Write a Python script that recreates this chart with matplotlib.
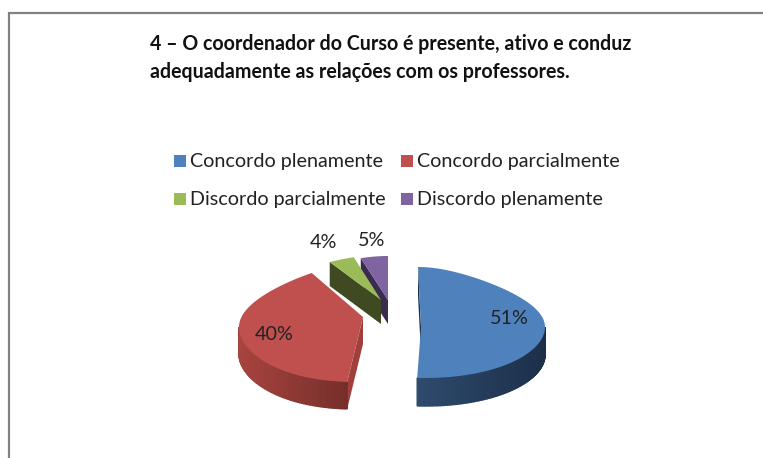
import numpy as np
import matplotlib
matplotlib.use("Agg")
import matplotlib.pyplot as plt
from matplotlib.patches import Polygon, Rectangle

plt.rcParams['font.family'] = ['Lato', 'DejaVu Sans']

title = "4 – O coordenador do Curso é presente, ativo e conduz\nadequadamente as relações com os professores."
categories = ["Concordo plenamente", "Concordo parcialmente",
              "Discordo parcialmente", "Discordo plenamente"]
values = [51, 40, 4, 5]

top_colors = ['#4f81bd', '#c0504d', '#9bbb59', '#8064a2']
cut_colors = ['#1c3048', '#a03f3c', '#3f4a22', '#3a2c4e']
wall_left = ['#2f4b6e', '#a8443f', '#3f4a22', '#3a2c4e']
wall_right = ['#1b2f49', '#762e2b', '#3f4a22', '#3a2c4e']

# exploded pie: apex x, apex y, ry back, ry front, depth, lean front, lean back, rim drop
slice_shape = [
    (421, 327, 60, 51, 28, -4, -3, 0),
    (363, 317, 64, 55, 27, 8, 0, 10),
    (381, 300, 45, 45, 24, 0, 0, 0),
    (388, 300, 44, 44, 24, 0, 0, 0),
]
RX = 124
PERSP = 0.32
label_pos = [(509, 319), (274, 334), (323, 242), (372, 241)]
legend_x = [174, 401]
legend_y = [162, 200]


def rim(angle, shape):
    # angle in degrees, clockwise from 12 o'clock
    ax_, ay_, ry_back, ry_front, depth, lean_f, lean_b, drop = shape
    s = np.sin(np.radians(angle))
    c = np.cos(np.radians(angle))
    x = ax_ + RX * s * (1 - PERSP * np.maximum(c, 0) ** 2)
    x = x + lean_f * np.minimum(c, 0) ** 3 + lean_b * np.maximum(c, 0) ** 3
    y = ay_ + drop - np.where(c > 0, ry_back, ry_front) * c
    return x, y


def hex_rgb(h):
    return np.array(matplotlib.colors.to_rgb(h))


fig = plt.figure(figsize=(7.63, 4.58), dpi=100)
ax = fig.add_axes([0, 0, 1, 1])
ax.set_xlim(0, 763)
ax.set_ylim(458, 0)
ax.axis('off')

# frame, runs off the right and bottom
ax.plot([9, 9, 763], [458, 13, 13], color='#808080', lw=1.6, solid_joinstyle='miter')

ax.text(150, 44, title.split("\n")[0], fontsize=14.15, fontweight='bold', va='center', color='#111111')
ax.text(150, 72, title.split("\n")[1], fontsize=14.15, fontweight='bold', va='center', color='#111111')

for i, name in enumerate(categories):
    lx = legend_x[i % 2]
    ly = legend_y[i // 2]
    ax.add_patch(Rectangle((lx, ly - 7), 12, 12, color=top_colors[i], lw=0))
    ax.text(lx + 16, ly, name, fontsize=14.2, va='center', color='#222222')

# slices, back ones first so the front ones cover them
order = [3, 2, 0, 1]
starts = np.cumsum([0] + values[:-1]) * 3.6
for i in order:
    shape = slice_shape[i]
    a0 = starts[i]
    a1 = a0 + values[i] * 3.6
    ax_, ay_, ry_b, ry_f, depth = shape[:5]

    # cut face on the start side
    rx0, ry0 = rim(a0, shape)
    ax.add_patch(Polygon([(ax_, ay_), (rx0, ry0), (rx0, ry0 + depth), (ax_, ay_ + depth)],
                         color=cut_colors[i], lw=0))

    # outer wall, only the front half shows
    w0 = max(a0, 90)
    w1 = min(a1, 270)
    if w1 > w0:
        ang = np.linspace(w0, w1, 80)
        wx, wy = rim(ang, shape)
        for j in range(len(ang) - 1):
            t = (wx[j] - wx.min()) / (wx.max() - wx.min())
            col = hex_rgb(wall_left[i]) * (1 - t) + hex_rgb(wall_right[i]) * t
            ax.add_patch(Polygon([(wx[j], wy[j]), (wx[j + 1], wy[j + 1]),
                                  (wx[j + 1], wy[j + 1] + depth), (wx[j], wy[j] + depth)],
                                 facecolor=col, edgecolor=col, lw=1))

    # top face
    ang = np.linspace(a0, a1, 120)
    tx, ty = rim(ang, shape)
    pts = [(ax_, ay_)] + list(zip(tx, ty))
    ax.add_patch(Polygon(pts, color=top_colors[i], lw=0))

for i, v in enumerate(values):
    ax.text(label_pos[i][0], label_pos[i][1], str(v) + "%", fontsize=14.2, ha='center', va='center', color='#222222')

fig.savefig('out.png', dpi=100)
